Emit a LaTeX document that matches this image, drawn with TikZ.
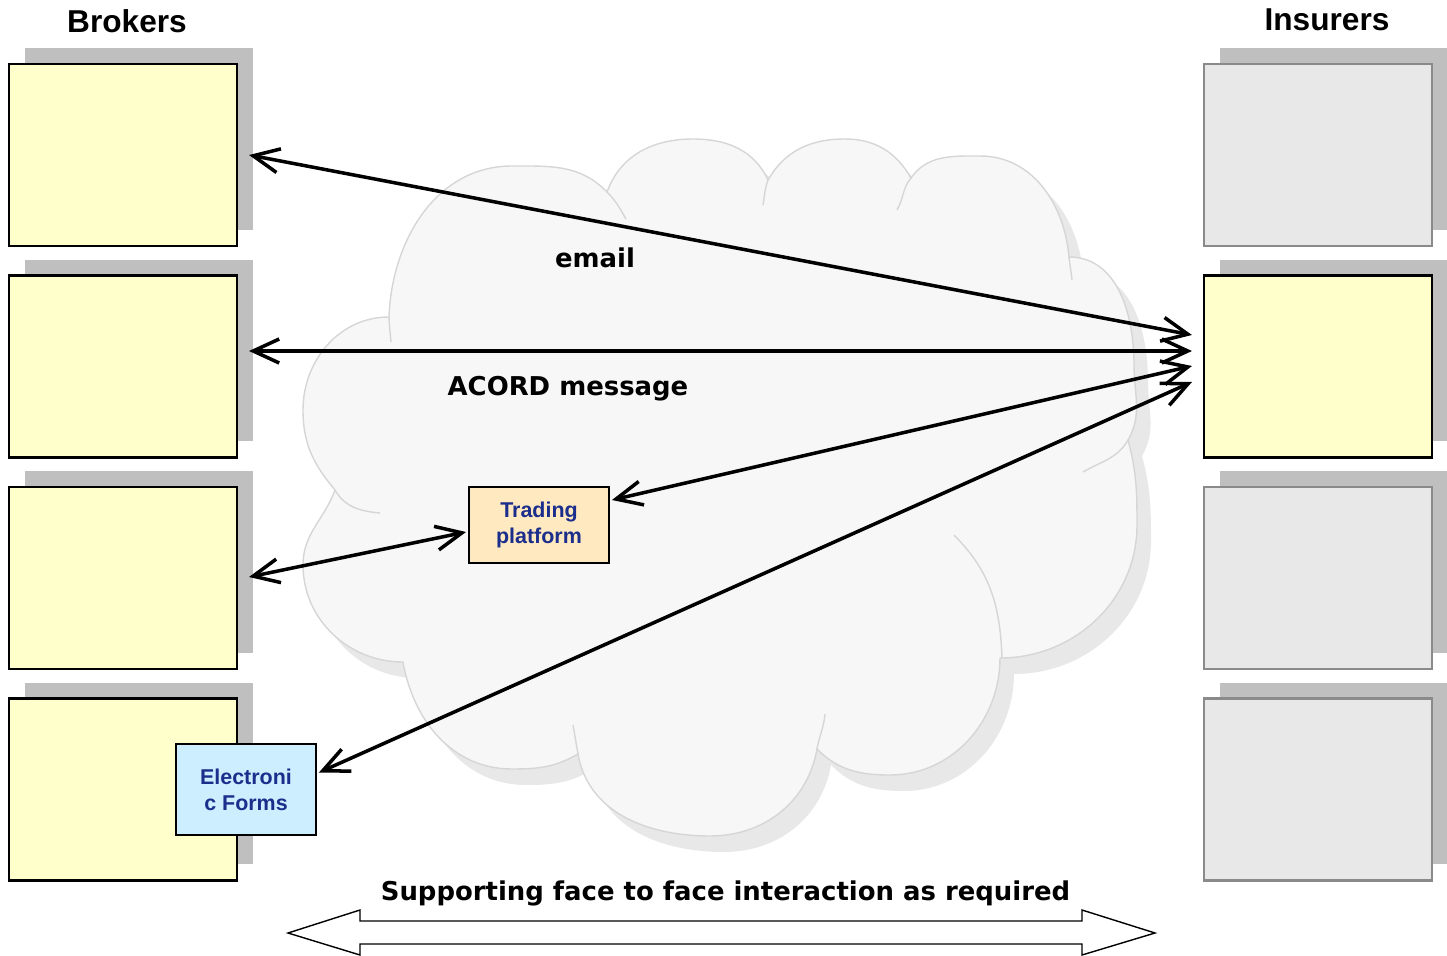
\documentclass[tikz,border=0pt]{standalone}
\usepackage{fontspec}
\setmainfont{Liberation Sans}
\newfontfamily\labelfont{DejaVu Sans}
\usetikzlibrary{arrows.meta,shadows}

\definecolor{brokerfill}{HTML}{FFFFCC}
\definecolor{insurerfill}{HTML}{E8E8E8}
\definecolor{insurerline}{HTML}{8A8A8A}
\definecolor{boxshadow}{HTML}{BFBFBF}
\definecolor{cloudfill}{HTML}{F7F7F7}
\definecolor{cloudline}{HTML}{D6D6D6}
\definecolor{cloudshade}{HTML}{E8E8E8}
\definecolor{tradefill}{HTML}{FFE9C0}
\definecolor{formfill}{HTML}{CCEEFF}
\definecolor{navytext}{HTML}{1C2E8C}

\tikzset{
  party/.style={rectangle, minimum width=4.56cm, minimum height=3.64cm,
    line width=1.2pt, inner sep=0pt,
    general shadow={fill=boxshadow, draw=none, shadow xshift=0.32cm, shadow yshift=0.32cm}},
  broker/.style={party, draw=black, fill=brokerfill},
  insurer/.style={party, draw=insurerline, fill=insurerfill},
  channel/.style={rectangle, draw=black, line width=1.1pt, minimum width=2.8cm,
    align=center, text=navytext, font=\bfseries\fontsize{12.2}{14.7}\selectfont},
  title/.style={font=\bfseries\fontsize{18}{21}\selectfont},
  flowlabel/.style={font=\labelfont\bfseries\fontsize{14.75}{17}\selectfont},
  conn/.style={line width=2pt, {Straight Barb[length=0.52cm,width=0.48cm]}-{Straight Barb[length=0.52cm,width=0.48cm]}},
  cloud outline/.style={insert path={
    (389,-317)
    to[out=88,in=180] (512,-166)
    to[out=0,in=134] (607,-192)
    to[out=70,in=180] (693,-139)
    to[out=0,in=115] (768,-180)
    to[out=60,in=180] (845,-139)
    to[out=0,in=120] (911,-178)
    to[out=55,in=180] (980,-156)
    to[out=0,in=95] (1069,-257)
    to[out=0,in=90] (1134,-365)
    to[out=-90,in=60] (1128,-440)
    to[out=-75,in=90] (1137,-525)
    to[out=-90,in=0] (1000,-658)
    to[out=-90,in=0] (890,-775)
    to[out=180,in=-45] (817,-749)
    to[out=-100,in=0] (710,-836)
    to[out=180,in=-80] (578,-754)
    to[out=-150,in=0] (512,-769)
    to[out=180,in=-80] (403,-662)
    to[out=180,in=-90] (303,-565)
    to[out=90,in=-110] (335,-490)
    to[out=130,in=-90] (303,-410)
    to[out=90,in=180] (389,-317)
    -- cycle}}
}

\begin{document}
\begin{tikzpicture}[x=0.02cm, y=0.02cm]
\useasboundingbox (0,0) rectangle (1447,-956);

% network cloud: shade, body, then the small folds inside it
\fill[cloudshade, shift={(14,-16)}, cloud outline];
\path[fill=cloudfill, draw=cloudline, line width=0.8pt, cloud outline];
\begin{scope}[draw=cloudline, line width=0.8pt]
  \draw (389,-317) to[out=-88,in=95] (391,-342);
  \draw (607,-192) to[out=-45,in=120] (626,-219);
  \draw (768,-180) to[out=-110,in=80] (763,-205);
  \draw (911,-178) to[out=-130,in=60] (897,-210);
  \draw (1069,-257) to[out=-85,in=95] (1072,-280);
  \draw (1128,-440) to[out=240,in=30] (1083,-472);
  \draw (1002,-658) to[out=92,in=-45] (954,-535);
  \draw (817,-749) to[out=80,in=-95] (825,-714);
  \draw (578,-754) to[out=100,in=-80] (573,-725);
  \draw (335,-490) to[out=-60,in=175] (380,-513);
\end{scope}

% column headings
\node[title] (hbrokers) at (127,-21) {Brokers};
\node[title] (hinsurers) at (1327,-20) {Insurers};

% brokers
\node[broker] (b1) at (123,-155) {};
\node[broker] (b2) at (123,-366.5) {};
\node[broker] (b3) at (123,-578) {};
\node[broker] (b4) at (123,-789.5) {};

% insurers
\node[insurer] (i1) at (1318,-155) {};
\node[broker]  (i2) at (1318,-366.5) {};
\node[insurer] (i3) at (1318,-578) {};
\node[insurer] (i4) at (1318,-789.5) {};

% channels
\node[channel, fill=tradefill, minimum height=1.52cm] (tp) at (539,-525) {\raisebox{-2pt}{Trading}\\\raisebox{-2pt}{platform}};
\node[channel, fill=formfill, minimum height=1.82cm] (ef) at (246,-789.5) {Electroni\\c Forms};

% message flows
\draw[conn] ([shift={(11,0)}]b1.east) -- ([shift={(-11,31.5)}]i2.west);
\draw[conn] ([shift={(11,15.5)}]b2.east) -- ([shift={(-11,15.5)}]i2.west);
\draw[conn] ([shift={(2,25)}]tp.east) -- ([shift={(-11,0.5)}]i2.west);
\draw[conn] ([shift={(11,1)}]b3.east) -- ([shift={(-2,-7)}]tp.west);
\draw[conn] ([shift={(2,17)}]ef.east) -- ([shift={(-11,-15.5)}]i2.west);

\node[flowlabel] (lemail) at (595,-258) {email};
\node[flowlabel] (lacord) at (568,-389) {ACORD message};

% face to face band
\node[flowlabel] (lface) at (725.5,-893) {Supporting face to face interaction as required};
\draw[line width=0.8pt, fill=white, line join=miter]
  (288,-933) -- (360,-910) -- (360,-921) -- (1082,-921) -- (1082,-910)
  -- (1155,-933) -- (1082,-955) -- (1082,-944) -- (360,-944) -- (360,-955) -- cycle;
\end{tikzpicture}
\end{document}
